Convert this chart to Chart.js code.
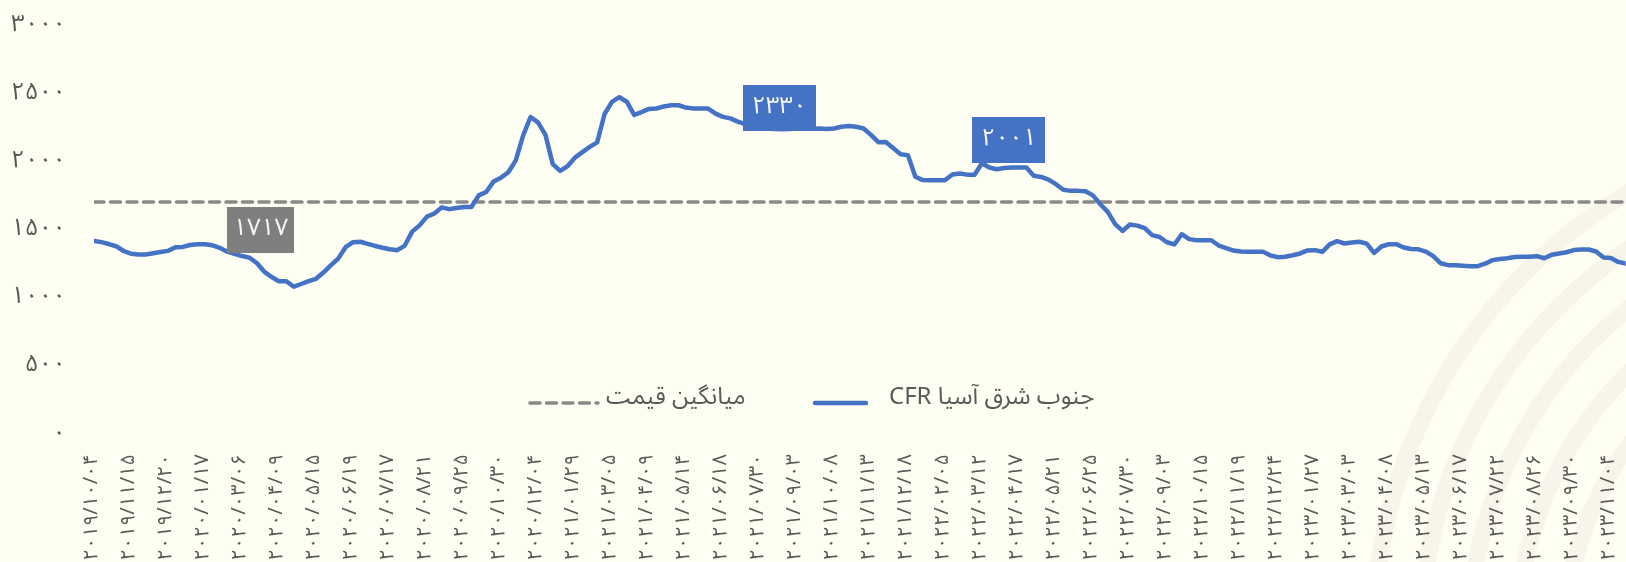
<!DOCTYPE html>
<html>
<head>
<meta charset="utf-8">
<script src="https://cdn.jsdelivr.net/npm/chart.js@4/dist/chart.umd.min.js"></script>
<style>
  html, body { margin: 0; padding: 0; background: #fffef3; overflow: hidden; }
  canvas { display: block; }
</style>
</head>
<body>
<canvas id="chart" width="1645" height="600"></canvas>
<script>
// Weekly CFR price, South-East Asia (every fifth week is labelled on the axis)
const tickLabels = [
  '2019/10/04', '2019/11/15', '2019/12/20', '2020/01/17', '2020/03/06', '2020/04/09',
  '2020/05/15', '2020/06/19', '2020/07/17', '2020/08/21', '2020/09/25', '2020/10/30',
  '2020/12/04', '2021/01/29', '2021/03/05', '2021/04/09', '2021/05/14', '2021/06/18',
  '2021/07/30', '2021/09/03', '2021/10/08', '2021/11/13', '2021/12/18', '2022/02/05',
  '2022/03/12', '2022/04/17', '2022/05/21', '2022/06/25', '2022/07/30', '2022/09/03',
  '2022/10/15', '2022/11/19', '2022/12/24', '2023/01/27', '2023/03/03', '2023/04/08',
  '2023/05/13', '2023/06/17', '2023/07/22', '2023/08/26', '2023/09/30', '2023/11/04'
];
const weeksPerTick = 5;

const cfrPrices = [
  1431, 1422, 1408, 1392, 1357, 1337, 1331, 1331, 1340, 1350,
  1358, 1384, 1387, 1401, 1407, 1407, 1399, 1380, 1352, 1336,
  1320, 1308, 1269, 1206, 1166, 1135, 1135, 1095, 1115, 1136,
  1153, 1199, 1251, 1301, 1385, 1422, 1425, 1409, 1394, 1381,
  1370, 1363, 1397, 1499, 1545, 1609, 1632, 1677, 1664, 1672,
  1680, 1680, 1765, 1790, 1866, 1895, 1935, 2022, 2205, 2340,
  2300, 2211, 1994, 1944, 1979, 2042, 2082, 2121, 2154, 2362,
  2451, 2485, 2452, 2355, 2376, 2399, 2402, 2417, 2426, 2426,
  2409, 2402, 2402, 2402, 2365, 2341, 2330, 2306, 2288, 2274,
  2262, 2255, 2252, 2250, 2252, 2255, 2255, 2254, 2255, 2251,
  2256, 2268, 2273, 2268, 2256, 2209, 2155, 2157, 2113, 2067,
  2060, 1902, 1877, 1876, 1876, 1876, 1918, 1925, 1917, 1916,
  2001, 1969, 1957, 1966, 1969, 1969, 1969, 1909, 1900, 1881,
  1847, 1806, 1798, 1798, 1795, 1765, 1700, 1644, 1554, 1504,
  1551, 1543, 1525, 1473, 1460, 1421, 1405, 1480, 1444, 1436,
  1436, 1436, 1397, 1378, 1360, 1353, 1351, 1351, 1351, 1324,
  1312, 1315, 1326, 1339, 1361, 1363, 1351, 1406, 1429, 1412,
  1420, 1425, 1411, 1343, 1390, 1407, 1407, 1383, 1372, 1369,
  1353, 1319, 1267, 1253, 1253, 1249, 1246, 1246, 1264, 1290,
  1298, 1304, 1313, 1314, 1315, 1319, 1304, 1330, 1339, 1348,
  1364, 1368, 1368, 1353, 1310, 1306, 1277, 1265
];
const averagePrice = 1717;

// points that carry a value call-out
const calloutIndices = [86, 120];
const averageCalloutIndex = 22;

const yTicks = [0, 500, 1000, 1500, 2000, 2500, 3000];

const seriesName = 'جنوب شرق آسیا CFR';
const averageName = 'میانگین قیمت';

const faDigits = '۰۱۲۳۴۵۶۷۸۹';
const toFa = s => String(s).replace(/[0-9]/g, d => faDigits[d]);

const BLUE = '#4472c4';
const GREY = '#898989';
const TEXT = '#595959';
const FA_FONT = '"Noto Sans Arabic", "DejaVu Sans", sans-serif';

const lastIndex = cfrPrices.length - 1;
const cfrPoints = cfrPrices.map((v, i) => ({ x: i, y: v }));
const avgPoints = [{ x: 0, y: averagePrice }, { x: lastIndex, y: averagePrice }];

// cream page with faint concentric arcs in the lower right corner
const backdrop = {
  id: 'backdrop',
  beforeDraw(chart) {
    const { ctx, width, height } = chart;
    ctx.save();
    ctx.fillStyle = '#fffef3';
    ctx.fillRect(0, 0, width, height);
    ctx.strokeStyle = '#f7f5ea';
    ctx.lineWidth = 17;
    const cx = 1893, cy = 640;
    [520, 472, 424, 376, 328].forEach(r => {
      ctx.beginPath();
      ctx.arc(cx, cy, r, Math.PI * 0.9, Math.PI * 1.6);
      ctx.stroke();
    });
    ctx.restore();
  }
};

function drawBox(ctx, text, cx, cy, h, padX, fill, font) {
  ctx.font = font;
  const w = ctx.measureText(text).width + padX * 2;
  ctx.fillStyle = fill;
  ctx.fillRect(Math.round(cx - w / 2), Math.round(cy - h / 2), Math.round(w), h);
  ctx.fillStyle = '#f7f7f2';
  ctx.textAlign = 'center';
  ctx.textBaseline = 'middle';
  ctx.fillText(text, cx, cy + 1);
}

// value call-outs and the in-plot legend
const annotations = {
  id: 'annotations',
  afterDatasetsDraw(chart) {
    const { ctx } = chart;
    const xs = chart.scales.x, ys = chart.scales.y;
    const boxFont = '24px ' + FA_FONT;
    ctx.save();
    const offsets = { 86: [49, -10], 120: [27, -23] };
    calloutIndices.forEach(i => {
      const px = xs.getPixelForValue(i), py = ys.getPixelForValue(cfrPrices[i]);
      const [dx, dy] = offsets[i];
      drawBox(ctx, toFa(cfrPrices[i]), px + dx, py + dy, 46, 9, BLUE, boxFont);
    });
    {
      const px = xs.getPixelForValue(averageCalloutIndex), py = ys.getPixelForValue(averagePrice);
      drawBox(ctx, toFa(averagePrice), px + 4, py + 28, 46, 6, '#7f7f7f', boxFont);
    }

    // legend
    const ly = ys.getPixelForValue(0) - 36;
    ctx.font = '24px ' + FA_FONT;
    ctx.textBaseline = 'middle';
    ctx.direction = 'rtl';
    ctx.textAlign = 'left';
    ctx.fillStyle = TEXT;
    ctx.lineCap = 'round';
    // average item
    ctx.strokeStyle = GREY;
    ctx.lineWidth = 3.5;
    ctx.setLineDash([10, 6.5]);
    ctx.beginPath(); ctx.moveTo(530, ly + 3); ctx.lineTo(598, ly + 3); ctx.stroke();
    ctx.setLineDash([]);
    ctx.fillText(averageName, 606, ly);
    // series item
    ctx.strokeStyle = BLUE;
    ctx.lineWidth = 4.5;
    ctx.beginPath(); ctx.moveTo(815, ly + 3); ctx.lineTo(866, ly + 3); ctx.stroke();
    ctx.fillText(seriesName, 889, ly);
    ctx.restore();
  }
};

new Chart(document.getElementById('chart'), {
  type: 'line',
  data: {
    datasets: [
      {
        label: seriesName,
        data: cfrPoints,
        borderColor: BLUE,
        borderWidth: 4.5,
        pointRadius: 0,
        tension: 0,
        borderJoinStyle: 'round',
        borderCapStyle: 'round'
      },
      {
        label: averageName,
        data: avgPoints,
        borderColor: GREY,
        borderWidth: 3.5,
        borderDash: [10, 6.5],
        borderCapStyle: 'round',
        pointRadius: 0
      }
    ]
  },
  options: {
    responsive: false,
    animation: false,
    events: [],
    layout: { padding: { top: 0, right: 11, left: 0, bottom: 0 } },
    plugins: { legend: { display: false }, tooltip: { enabled: false } },
    scales: {
      x: {
        type: 'linear',
        min: 0,
        max: lastIndex,
        grid: { display: false },
        border: { display: false },
        afterBuildTicks(scale) {
          scale.ticks = tickLabels.map((_, k) => ({ value: k * weeksPerTick }));
        },
        afterFit(scale) { scale.height = 164; },
        ticks: {
          autoSkip: false,
          minRotation: 90,
          maxRotation: 90,
          padding: 10,
          color: TEXT,
          font: { family: FA_FONT, size: 20 },
          callback: v => toFa(tickLabels[v / weeksPerTick])
        }
      },
      y: {
        min: 0,
        max: 3000,
        grid: { display: false },
        border: { display: false },
        afterBuildTicks(scale) { scale.ticks = yTicks.map(v => ({ value: v })); },
        afterFit(scale) {
          scale.width = 94;
          scale.paddingTop = 27;
          scale.paddingBottom = 0;
        },
        ticks: {
          padding: 20,
          color: TEXT,
          font: { family: FA_FONT, size: 24 },
          callback: v => toFa(v)
        }
      }
    }
  },
  plugins: [backdrop, annotations]
});
</script>
</body>
</html>
